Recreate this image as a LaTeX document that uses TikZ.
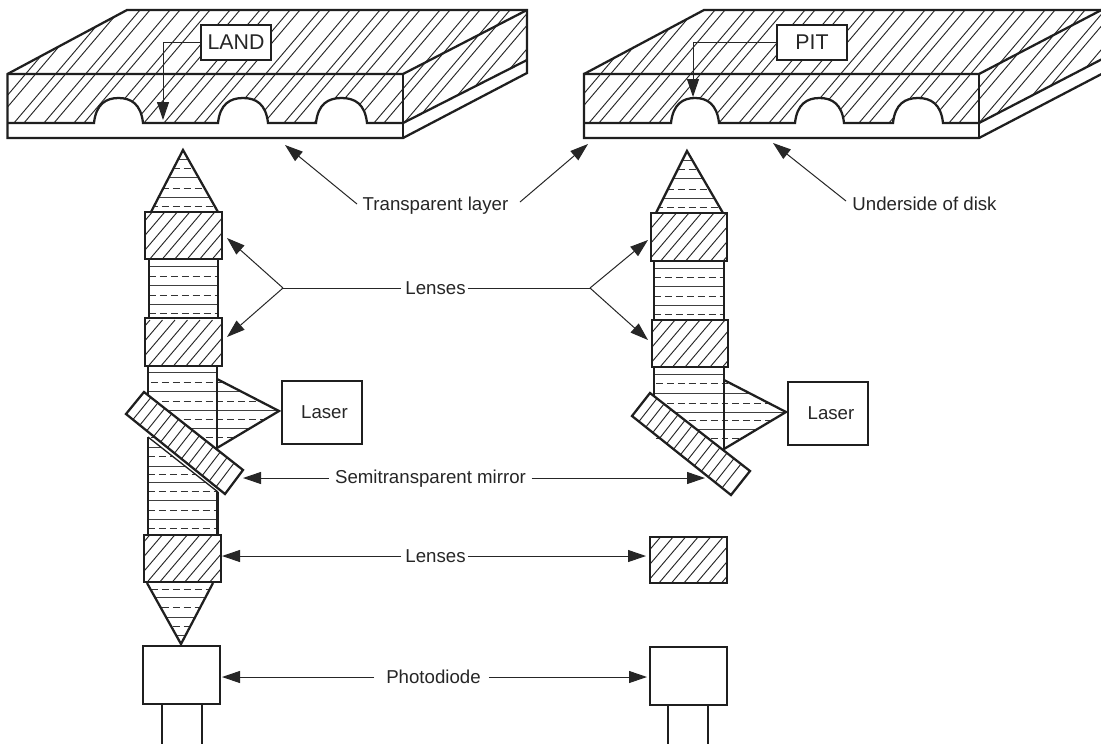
\documentclass[tikz,border=0pt]{standalone}
\usepackage{fontspec}
\setmainfont{Liberation Sans}
\usetikzlibrary{arrows.meta,calc}
\tikzset{
  outline/.style={line width=1.7pt,line join=miter,draw=black!88},
  hair/.style={line width=.7pt,draw=black!85},
  scanline/.style={line width=.75pt,draw=black!75},
  dashline/.style={line width=.75pt,draw=black!80,dash pattern=on 5.2pt off 3pt},
  lead/.style={line width=.75pt,draw=black!85,-{Triangle[length=13.5pt,width=9pt]}},
  plainlead/.style={line width=.75pt,draw=black!85},
  lbl/.style={font=\fontsize{14}{15}\selectfont,text=black!85,inner sep=0pt,anchor=base},
  tag/.style={outline,fill=white,inner sep=0pt,font=\fontsize{16}{17}\selectfont,text=black!85},
  box/.style={outline,inner sep=0pt,font=\fontsize{14}{15}\selectfont,text=black!85}
}
% hatch lines of a lens block: #1 = closed path
\newcommand{\lensblock}[1]{%
  \begin{scope}\clip #1;
    \foreach \x in {100,112.5,...,900}{\draw[hair] (\x,0) ++(0,200) -- ++(-85,100);
      \draw[hair] (\x,0) ++(0,320) -- ++(-85,100);
      \draw[hair] (\x,0) ++(0,520) -- ++(-85,100);}
  \end{scope}\draw[outline] #1;}
\newcommand{\scans}[4]{%
  \foreach \y in {#3}{\draw[scanline] (#1,\y) -- (#2,\y);}
  \foreach \y in {#4}{\draw[dashline] (#1,\y) -- (#2,\y);}}
\newcommand{\mirror}[4]{%
  \coordinate (ma) at #1; \coordinate (mb) at #2; \coordinate (mc) at #3; \coordinate (md) at #4;
  \fill[white] (ma) -- (mb) -- (mc) -- (md) -- cycle;
  \foreach \t in {0.07,0.14,...,0.95}{\draw[hair] ($(ma)!\t!(mb)$) -- ($(md)!\t!(mc)$);}
  \draw[outline] (ma) -- (mb) -- (mc) -- (md) -- cycle;}
\begin{document}
\begin{tikzpicture}[x=.75pt,y=-.75pt]
\useasboundingbox (0,0) rectangle (1101,744);
\clip (0,0) rectangle (1101,744);
\fill[white] (0,0) rectangle (1101,744);

% ---------- left disk ----------
\begin{scope}
  \clip (7.5,74) -- (127,10) -- (527,10) -- (527,60) -- (403,123) -- (367,123)
    .. controls (365,104) and (355,98) .. (341.5,98) .. controls (328,98) and (318,104) .. (316,123)
    -- (268,123) .. controls (266,104) and (256,98) .. (243,98) .. controls (230,98) and (220,104) .. (218,123)
    -- (143,123) .. controls (141,104) and (131,98) .. (118.5,98) .. controls (106,98) and (96,104) .. (94,123)
    -- (7.5,123) -- cycle;
  \foreach \x in {28.5,58.5,...,760}{\draw[hair] (\x,0) -- ++(-170,200); \draw[hair] (\x+10,0) -- ++(-170,200);}
\end{scope}
\draw[outline] (7.5,74) -- (127,10) -- (527,10) -- (527,73) -- (403,138) -- (7.5,138) -- cycle;
\draw[outline] (7.5,74) -- (403,74) -- (527,10);
\draw[outline] (403,74) -- (403,138);
\draw[outline] (527,60) -- (403,123) -- (367,123)
    .. controls (365,104) and (355,98) .. (341.5,98) .. controls (328,98) and (318,104) .. (316,123)
    -- (268,123) .. controls (266,104) and (256,98) .. (243,98) .. controls (230,98) and (220,104) .. (218,123)
    -- (143,123) .. controls (141,104) and (131,98) .. (118.5,98) .. controls (106,98) and (96,104) .. (94,123)
    -- (7.5,123);
\node[tag,minimum width=52.5pt,minimum height=26.25pt] (land) at (236,42.5) {LAND};
\coordinate (landtip) at (163,120);
\draw[lead] (land.west) -| (landtip);

% ---------- right disk ----------
\begin{scope}
  \clip (584,74) -- (704,10) -- (1110,10) -- (1110,55) -- (979,123) -- (943,123)
    .. controls (941,104) and (931,98) .. (918,98) .. controls (905,98) and (895,104) .. (893,123)
    -- (844,123) .. controls (842,104) and (832,98) .. (819.5,98) .. controls (807,98) and (797,104) .. (795,123)
    -- (719,123) .. controls (717,104) and (707,98) .. (695,98) .. controls (683,98) and (673,104) .. (671,123)
    -- (584,123) -- cycle;
  \foreach \x in {603.5,633.5,...,1330}{\draw[hair] (\x,0) -- ++(-170,200); \draw[hair] (\x+10,0) -- ++(-170,200);}
\end{scope}
\draw[outline] (584,74) -- (704,10) -- (1110,10);
\draw[outline] (1110,69.6) -- (979,138) -- (584,138) -- (584,74) -- (979,74) -- (1110,5.5);
\draw[outline] (979,74) -- (979,138);
\draw[outline] (1110,55) -- (979,123) -- (943,123)
    .. controls (941,104) and (931,98) .. (918,98) .. controls (905,98) and (895,104) .. (893,123)
    -- (844,123) .. controls (842,104) and (832,98) .. (819.5,98) .. controls (807,98) and (797,104) .. (795,123)
    -- (719,123) .. controls (717,104) and (707,98) .. (695,98) .. controls (683,98) and (673,104) .. (671,123)
    -- (584,123);
\node[tag,minimum width=52.5pt,minimum height=26.25pt] (pit) at (812,42.5) {PIT};
\coordinate (pittip) at (693,97);
\draw[lead] (pit.west) -| (pittip);

% ---------- left column ----------
\begin{scope}\clip (183,150) -- (218,212) -- (151,212) -- cycle;
  \scans{140}{230}{159,177,197}{168,188,206}
\end{scope}
\draw[outline] (151,212) -- (183,150) -- (218,212);
\scans{149}{218}{266,285,304}{276,295,313}
\draw[outline] (149,259) -- (149,318) (218,259) -- (218,318);
\lensblock{(145,212) rectangle (222,259)}
\lensblock{(145,318) rectangle (222,366)}
\begin{scope}\clip (148,366) -- (217,366) -- (217,379) -- (279,411) -- (217,448) -- (148,448) -- cycle;
  \scans{140}{285}{372,391,410,428}{382,401,419,437}
\end{scope}
\draw[outline] (217,379) -- (279,411) -- (217,448);
\draw[outline] (148,366) -- (148,400) (217,366) -- (217,450);
\begin{scope}\clip (148,437) -- (218,492) -- (218,535) -- (148,535) -- cycle;
  \scans{148}{218}{447,466,482,500,519}{456,474,491,510,528}
\end{scope}
\draw[outline] (148,437) -- (148,535) (217.5,492) -- (217.5,535);
\draw[line width=1pt,draw=black!88] (148,437) -- (218,492);
\mirror{(144,392)}{(243,470)}{(225,494)}{(126,414)}
\lensblock{(144,535) rectangle (221,582)}
\begin{scope}\clip (147,583) -- (213,583) -- (181,644) -- cycle;
  \scans{140}{220}{597,617,635}{589,607,626}
\end{scope}
\draw[outline] (147,583) -- (181,644) -- (213,583);
\node[box,minimum width=60pt,minimum height=47.25pt] (laserL) at (322,412.5) {\hspace*{3.75pt}Laser};
\node[box,minimum width=57.75pt,minimum height=43.5pt] (pdL) at (181.5,675) {};
\draw[outline] (162,704) -- (162,744) (202,704) -- (202,744);

% ---------- right column ----------
\begin{scope}\clip (687,151) -- (723,213) -- (656,213) -- cycle;
  \scans{645}{730}{160,178,198}{169,189,207}
\end{scope}
\draw[outline] (656,213) -- (687,151) -- (723,213);
\scans{654}{724}{268,286,305}{277,296,314}
\draw[outline] (654,261) -- (654,320) (724,261) -- (724,320);
\lensblock{(651,213) rectangle (727,261)}
\lensblock{(652,320) rectangle (728,367)}
\begin{scope}\clip (654,367) -- (724,367) -- (724,380) -- (786,412) -- (724,449) -- (654,449) -- cycle;
  \scans{645}{790}{374,393,412,429}{383,403,420,438}
\end{scope}
\draw[outline] (724,380) -- (786,412) -- (724,449);
\draw[outline] (654,367) -- (654,400) (724,367) -- (724,451);
\mirror{(650,393)}{(750,471)}{(731,495)}{(632,416)}
\lensblock{(650,537) rectangle (727,583)}
\node[box,minimum width=60pt,minimum height=47.25pt] (laserR) at (828,413.5) {\hspace*{4.5pt}Laser};
\node[box,minimum width=57.75pt,minimum height=43.5pt] (pdR) at (688.5,676) {};
\draw[outline] (668,705) -- (668,744) (708,705) -- (708,744);

% ---------- labels and leaders ----------
\node[lbl] (trans) at (435.5,210) {Transparent layer};
\coordinate (t1) at (285,145); \coordinate (t2) at (588,144);
\coordinate (t0a) at (357,204); \coordinate (t0b) at (520,202);
\draw[lead] (t0a) -- (t1);
\draw[lead] (t0b) -- (t2);
\node[lbl] (under) at (924.5,210) {Underside of disk};
\coordinate (u1) at (773,143); \coordinate (u0) at (846,201);
\draw[lead] (u0) -- (u1);

\node[lbl] (lens1) at (435.5,294) {Lenses};
\coordinate (j1) at (283,288); \coordinate (j2) at (590,288);
\coordinate (a1) at (227,238); \coordinate (a2) at (227,337);
\coordinate (a3) at (648,240); \coordinate (a4) at (648,340);
\draw[plainlead] (j1) -- ([xshift=-3pt]lens1.west |- j1);
\draw[plainlead] ([xshift=1.5pt]lens1.east |- j2) -- (j2);
\draw[lead] (j1) -- (a1); \draw[lead] (j1) -- (a2);
\draw[lead] (j2) -- (a3); \draw[lead] (j2) -- (a4);

\node[lbl] (semi) at (430.5,483) {Semitransparent mirror};
\coordinate (s1) at (243,478); \coordinate (s2) at (705,478);
\draw[lead] ([xshift=-4.5pt]semi.west |- s1) -- (s1);
\draw[lead] ([xshift=4pt]semi.east |- s2) -- (s2);

\node[lbl] (lens2) at (435.5,562) {Lenses};
\coordinate (l1) at (222,556); \coordinate (l2) at (646,556);
\draw[lead] ([xshift=-3pt]lens2.west |- l1) -- (l1);
\draw[lead] ([xshift=1.5pt]lens2.east |- l2) -- (l2);

\node[lbl] (photo) at (433.5,683) {Photodiode};
\coordinate (p1) at (222,677); \coordinate (p2) at (647,677);
\draw[lead] ([xshift=-9pt]photo.west |- p1) -- (p1);
\draw[lead] ([xshift=6pt]photo.east |- p2) -- (p2);
\end{tikzpicture}
\end{document}
